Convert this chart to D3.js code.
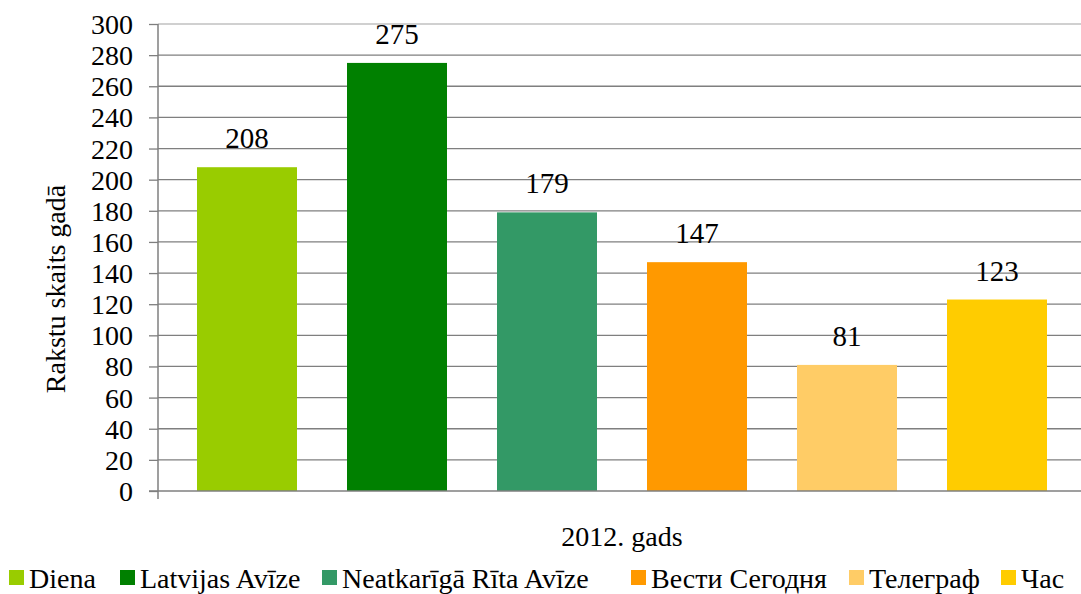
<!DOCTYPE html>
<html>
<head>
<meta charset="utf-8">
<script src="https://cdn.jsdelivr.net/npm/d3@7"></script>
</head>
<body style="margin:0">
<svg width="1081" height="594"></svg>
<script>
const series = ['Diena', 'Latvijas Avīze', 'Neatkarīgā Rīta Avīze', 'Вести Сегодня', 'Телеграф', 'Час'];
const values = [208, 275, 179, 147, 81, 123];
const colors = ['#99cc00', '#008000', '#339966', '#ff9900', '#ffcc66', '#ffcc00'];
const yTicks = [0, 20, 40, 60, 80, 100, 120, 140, 160, 180, 200, 220, 240, 260, 280, 300];
const category = '2012. gads';
const yTitle = 'Rakstu skaits gadā';

const PLOT = {left: 158, right: 1086, top: 24, bottom: 491};
const serif = () => "'Liberation Serif', 'Times New Roman', monospace";

const svg = d3.select('svg');

const x = d3.scaleBand()
    .domain(series)
    .range([PLOT.left, PLOT.right])
    .paddingInner(1 / 3)
    .paddingOuter(0.26);

const y = d3.scaleLinear()
    .domain([0, 300])
    .range([PLOT.bottom, PLOT.top]);

// gridlines
svg.append('g')
    .selectAll('line')
    .data(yTicks.filter(d => d > 0))
    .join('line')
    .attr('x1', PLOT.left)
    .attr('x2', PLOT.right)
    .attr('y1', d => y(d))
    .attr('y2', d => y(d))
    .attr('stroke', d => d === 300 ? '#c0c0c0' : '#7f7f7f')
    .attr('stroke-width', 1.3);

// y axis
const yAxis = svg.append('g')
    .attr('transform', 'translate(' + PLOT.left + ',0)')
    .call(d3.axisLeft(y).tickValues(yTicks).tickSize(9).tickPadding(16));
yAxis.attr('font-family', null).attr('font-size', null);
yAxis.select('.domain').attr('stroke', '#7f7f7f').attr('stroke-width', 1.5)
    .attr('d', 'M0,' + PLOT.top + 'V' + (PLOT.bottom + 8));
yAxis.selectAll('.tick line').attr('stroke', '#7f7f7f').attr('stroke-width', 1.3);
yAxis.selectAll('.tick text')
    .attr('fill', '#000')
    .attr('dy', '0.34em')
    .attr('font-size', 28)
    .style('font-family', serif);

// bars
svg.append('g')
    .selectAll('rect')
    .data(series)
    .join('rect')
    .attr('x', d => x(d))
    .attr('width', x.bandwidth())
    .attr('y', (d, i) => y(values[i]))
    .attr('height', (d, i) => y(0) - y(values[i]))
    .attr('fill', (d, i) => colors[i]);

// baseline
svg.append('line')
    .attr('x1', PLOT.left - 9).attr('x2', PLOT.right)
    .attr('y1', y(0)).attr('y2', y(0))
    .attr('stroke', '#7f7f7f').attr('stroke-width', 1.5);

// value labels
svg.append('g')
    .selectAll('text')
    .data(series)
    .join('text')
    .attr('x', d => x(d) + x.bandwidth() / 2)
    .attr('y', (d, i) => y(values[i]) - 19)
    .attr('text-anchor', 'middle')
    .attr('font-size', 29)
    .style('font-family', serif)
    .text((d, i) => values[i]);

// axis titles
svg.append('text')
    .attr('transform', 'translate(65,289) rotate(-90)')
    .attr('text-anchor', 'middle')
    .attr('font-size', 28)
    .style('font-family', serif)
    .text(yTitle);

svg.append('text')
    .attr('x', 622)
    .attr('y', 546)
    .attr('text-anchor', 'middle')
    .attr('font-size', 28)
    .style('font-family', serif)
    .text(category);

// legend
const legendX = [9, 120, 322, 631, 849, 1001];
const legend = svg.append('g')
    .selectAll('g')
    .data(series)
    .join('g')
    .attr('transform', (d, i) => 'translate(' + legendX[i] + ',570)');
legend.append('rect')
    .attr('width', 15).attr('height', 15)
    .attr('fill', (d, i) => colors[i]);
legend.append('text')
    .attr('x', 20)
    .attr('y', 18)
    .attr('font-size', 28)
    .style('font-family', serif)
    .text(d => d);
</script>
</body>
</html>
